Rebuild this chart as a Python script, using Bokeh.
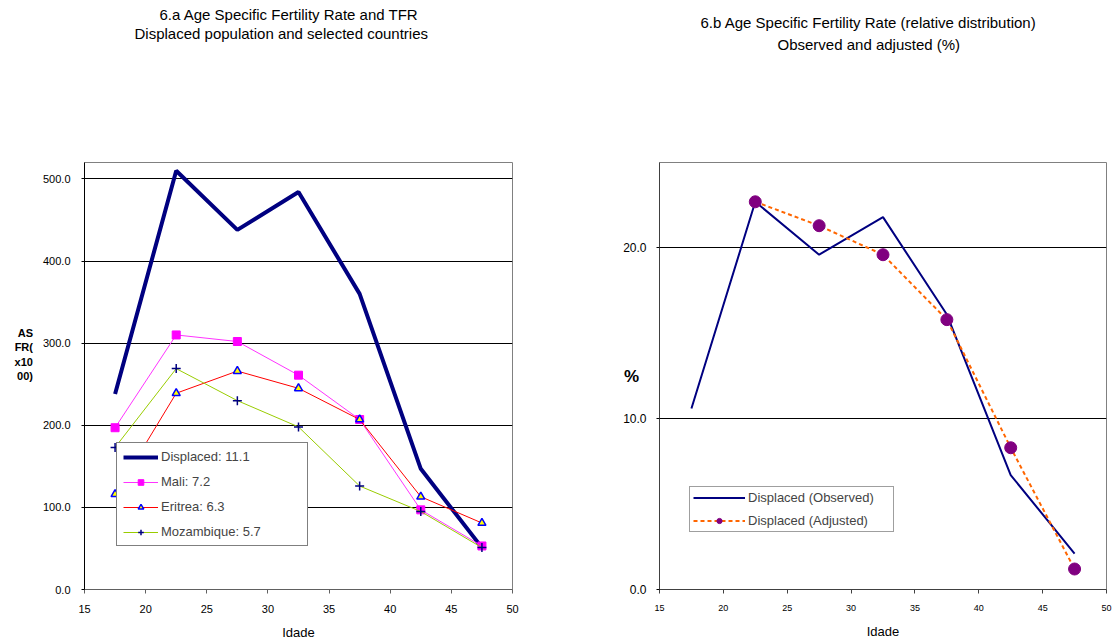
from bokeh.plotting import figure
from bokeh.layouts import row
from bokeh.models import Legend, LegendItem, FixedTicker, NumeralTickFormatter, Title
from bokeh.embed import file_html
from bokeh.resources import INLINE

# ---------------- data ----------------
ages = [17.5, 22.5, 27.5, 32.5, 37.5, 42.5, 47.5]
displaced = [238, 510, 438, 484, 360, 147, 51]
mali = [197, 310, 302, 261, 207, 97, 53]
eritrea = [116, 239, 266, 245, 207, 113, 81]
mozambique = [173, 269, 230, 198, 126, 95, 51]
left_labels = ["Displaced: 11.1", "Mali: 7.2", "Eritrea: 6.3", "Mozambique: 5.7"]

observed = [10.6, 22.7, 19.6, 21.8, 16.1, 6.7, 2.1]
adj_ages = [22.5, 27.5, 32.5, 37.5, 42.5, 47.5]
adjusted = [22.7, 21.3, 19.6, 15.8, 8.3, 1.2]
right_labels = ["Displaced (Observed)", "Displaced (Adjusted)"]

x_ticks = [15, 20, 25, 30, 35, 40, 45, 50]
left_y_ticks = [0, 100, 200, 300, 400, 500]
right_y_ticks = [0, 10, 20]

left_title = ["6.a  Age Specific Fertility Rate  and TFR",
              "Displaced population and selected countries"]
right_title = ["6.b  Age Specific Fertility Rate (relative distribution)",
               "Observed and adjusted  (%)"]

FONT = "Liberation Sans"
H = 642
FRAME_TOP = 162
FRAME_BOTTOM = 591


def style(p, xfs, yfs):
    p.xgrid.visible = False
    p.ygrid.grid_line_color = "black"
    p.ygrid.grid_line_width = 1
    p.outline_line_color = "#808080"
    p.background_fill_color = "white"
    p.border_fill_color = "white"
    p.xaxis.ticker = FixedTicker(ticks=x_ticks)
    p.yaxis.formatter = NumeralTickFormatter(format="0.0")
    for ax in (p.xaxis, p.yaxis):
        ax.minor_tick_line_color = None
        ax.major_tick_in = 0
        ax.major_label_text_font = FONT
        ax.major_label_text_color = "black"
        ax.axis_label_text_font = FONT
        ax.axis_label_text_color = "black"
    p.xaxis.axis_label_text_font_style = "normal"
    p.xaxis.major_tick_out = 4
    p.yaxis.major_tick_out = 3
    p.xaxis.major_label_text_font_size = xfs
    p.yaxis.major_label_text_font_size = yfs
    p.xaxis.axis_label = "Idade"
    p.xaxis.axis_label_text_font_size = "13px"
    p.yaxis.axis_label_orientation = "horizontal"
    p.yaxis.axis_label_text_font_style = "bold"


def titles(p, lines, offsets, standoffs, spacer):
    # the built-in title is stacked outermost (first line)
    p.title.text = lines[0]
    p.title.align = "left"
    p.title.offset = offsets[0]
    p.title.standoff = standoffs[0]
    p.title.text_font = FONT
    p.title.text_font_size = "15px"
    p.title.text_font_style = "normal"
    p.title.text_color = "black"
    # first entry of "above" sits next to the frame: a blank spacer, then the second line
    p.add_layout(Title(text=" ", text_font=FONT, text_font_size="1px", standoff=spacer), "above")
    p.add_layout(Title(text=lines[1], align="left", offset=offsets[1], standoff=standoffs[1],
                       text_font=FONT, text_font_size="15px", text_font_style="normal",
                       text_color="black"), "above")


# ---------------- left chart ----------------
p1 = figure(width=560, height=H, x_range=(15, 50), y_range=(0, 520),
            output_backend="svg", toolbar_location=None,
            min_border_left=84, min_border_right=48, min_border_top=FRAME_TOP,
            min_border_bottom=H - FRAME_BOTTOM)
style(p1, "11px", "11px")
p1.yaxis.ticker = FixedTicker(ticks=left_y_ticks)
p1.yaxis.major_label_standoff = 11
p1.xaxis.major_label_standoff = 11
p1.xaxis.axis_label_standoff = 9
p1.yaxis.axis_line_color = "black"
p1.xaxis.axis_line_color = "#606060"
p1.xaxis.major_tick_line_color = "#606060"
p1.yaxis.axis_label = "AS\nFR(\nx10\n00)\n\n\n"
p1.yaxis.axis_label_text_font_size = "11px"
p1.yaxis.axis_label_standoff = 7

r_d = p1.line(ages, displaced, line_color="#000080", line_width=4)
r_m = p1.line(ages, mali, line_color="#FF33FF", line_width=1)
s_m = p1.scatter(ages, mali, marker="square", size=8, fill_color="#FF00FF", line_color="#FF00FF")
r_e = p1.line(ages, eritrea, line_color="#FF0000", line_width=1)
s_e = p1.scatter(ages, eritrea, marker="triangle", size=8, fill_color="#FFFF00",
                 line_color="#0000FF", line_width=1.5)
r_z = p1.line(ages, mozambique, line_color="#99CC00", line_width=1)
s_z = p1.scatter(ages, mozambique, marker="cross", size=9, line_color="#000080", line_width=1.5)

leg1 = Legend(items=[LegendItem(label=left_labels[0], renderers=[r_d]),
                     LegendItem(label=left_labels[1], renderers=[r_m, s_m]),
                     LegendItem(label=left_labels[2], renderers=[r_e, s_e]),
                     LegendItem(label=left_labels[3], renderers=[r_z, s_z])],
              location=(32, 43), orientation="vertical",
              label_text_font=FONT, label_text_font_size="13px",
              glyph_width=35, glyph_height=14, label_height=14, label_width=140,
              spacing=10, padding=6, label_standoff=3,
              border_line_color="black", border_line_width=1,
              background_fill_color="white", background_fill_alpha=1)
p1.add_layout(leg1)
titles(p1, left_title, (75, 50), (0, 0), 117.4)

# ---------------- right chart ----------------
p2 = figure(width=557, height=H, x_range=(15, 50), y_range=(0, 25),
            output_backend="svg", toolbar_location=None,
            min_border_left=99, min_border_right=11, min_border_top=FRAME_TOP,
            min_border_bottom=H - FRAME_BOTTOM)
style(p2, "9px", "12px")
p2.yaxis.ticker = FixedTicker(ticks=right_y_ticks)
p2.yaxis.major_label_standoff = 10
p2.xaxis.major_label_standoff = 11
p2.xaxis.axis_label_standoff = 10
p2.yaxis.axis_line_color = "#404040"
p2.xaxis.axis_line_color = "#404040"
p2.xaxis.major_tick_line_color = "#404040"
p2.yaxis.axis_label = "%"
p2.yaxis.axis_label_text_font_size = "17px"
p2.yaxis.axis_label_standoff = -19

r_o = p2.line(ages, observed, line_color="#000080", line_width=2)
r_a = p2.line(adj_ages, adjusted, line_color="#FF6600", line_width=2, line_dash="4 3")
s_a = p2.scatter(adj_ages, adjusted, marker="circle", size=12, fill_color="#800080", line_color="#800080")

leg2 = Legend(items=[LegendItem(label=right_labels[0], renderers=[r_o]),
                     LegendItem(label=right_labels[1], renderers=[r_a, s_a])],
              location=(30, 57), orientation="vertical",
              label_text_font=FONT, label_text_font_size="13px",
              glyph_width=52, glyph_height=13, label_height=13, label_width=142,
              spacing=8, padding=3, label_standoff=3,
              border_line_color="#404040", border_line_width=1,
              background_fill_color="white", background_fill_alpha=1)
p2.add_layout(leg2)
titles(p2, right_title, (41, 118), (2, 4), 104.4)

layout = row(p1, p2)
open("out.html", "w").write(file_html(layout, INLINE))
